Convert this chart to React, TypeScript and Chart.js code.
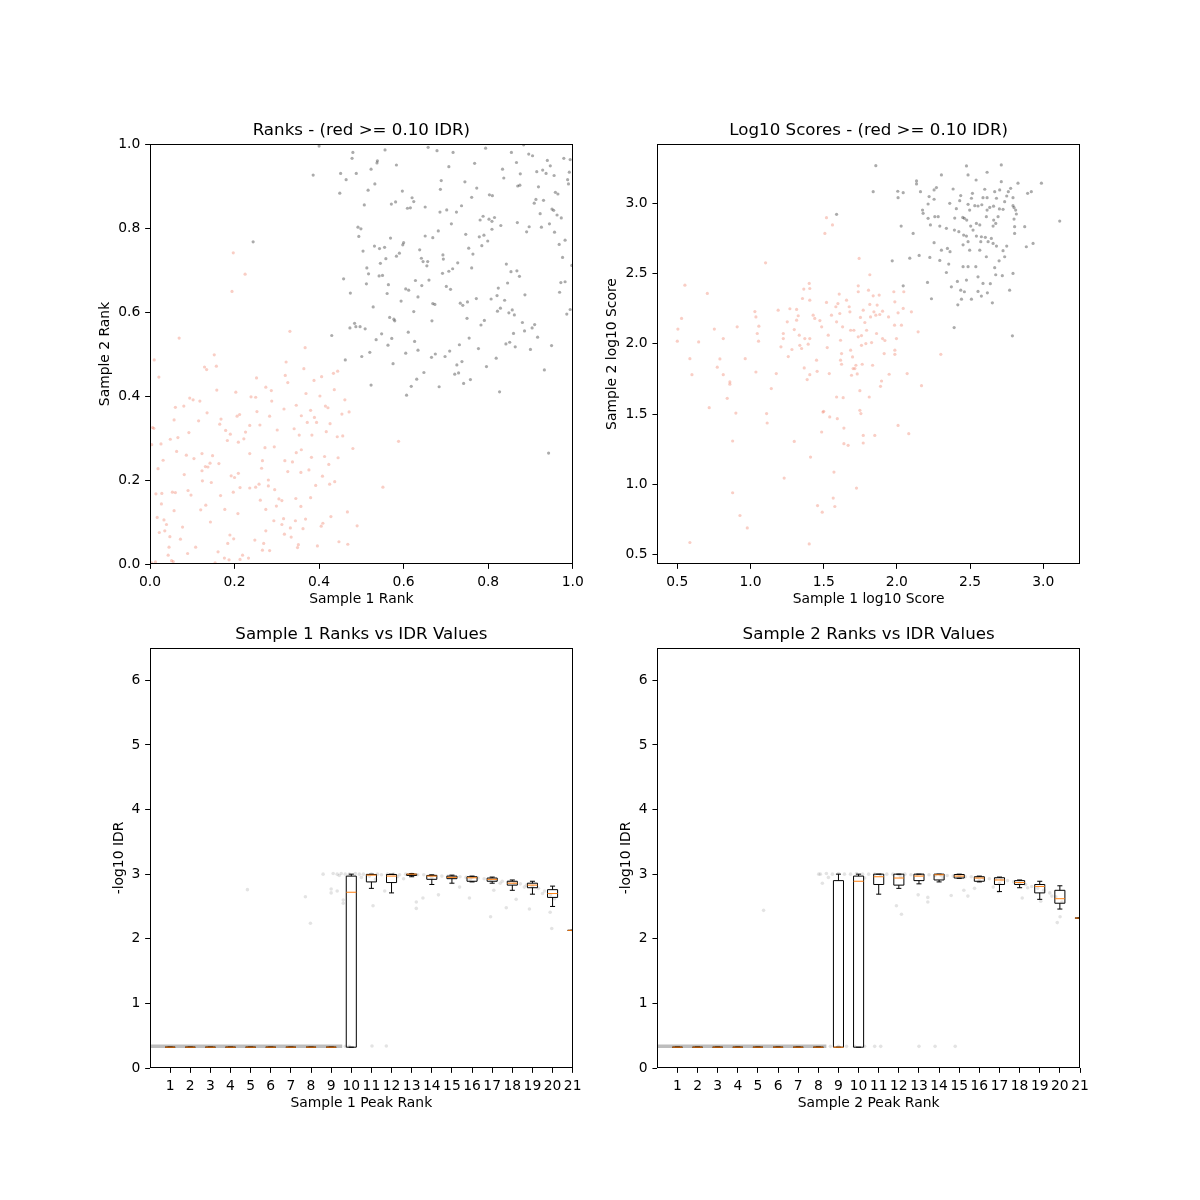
import React, { useEffect, useRef } from 'react';
import { Chart, registerables } from 'chart.js';
Chart.register(...registerables);

const FONT = "'DejaVu Sans', 'Liberation Sans', sans-serif";

// ---------- Panel 1: ranks ----------
const rankGray: number[][] = [
[0.40,0.995],[0.48,0.98],[0.478,0.966],[0.556,0.986],[0.538,0.96],[0.537,0.955],[0.583,0.95],[0.523,0.94],[0.451,0.93],[0.488,0.93],[0.386,0.926],[0.464,0.915],[0.532,0.905],[0.516,0.89],[0.449,0.883],[0.597,0.888],[0.62,0.872],[0.624,0.863],[0.581,0.862],[0.571,0.857],[0.507,0.855],[0.609,0.847],[0.616,0.848],[0.651,0.85],[0.658,0.992],[0.679,0.984],[0.717,0.98],[0.707,0.946],[0.689,0.913],[0.687,0.892],[0.745,0.91],[0.768,0.954],[0.794,0.99],[0.834,0.94],[0.855,0.98],[0.867,0.956],[0.884,0.998],[0.896,0.976],[0.905,0.972],[0.915,0.934],[0.929,0.938],[0.94,0.961],[0.947,0.948],[0.956,0.925],[0.937,0.93],[0.979,0.966],[0.994,0.963],[0.992,0.933],[0.988,0.915],[0.99,0.905],[0.837,0.919],[0.876,0.929],[0.875,0.902],[0.87,0.9],[0.773,0.895],[0.803,0.879],[0.81,0.877],[0.761,0.873],[0.919,0.898],[0.913,0.868],[0.931,0.866],[0.959,0.885],[0.965,0.881],[0.909,0.859],[0.951,0.845],[0.955,0.842],[0.963,0.831],[0.973,0.824],[0.923,0.834],[0.869,0.813],[0.897,0.803],[0.891,0.791],[0.926,0.802],[0.945,0.81],[0.957,0.79],[0.968,0.761],[0.982,0.771],[0.998,0.711],[0.976,0.73],[0.972,0.67],[0.982,0.672],[0.969,0.647],[0.994,0.606],[0.986,0.595],
[0.492,0.802],[0.499,0.798],[0.494,0.78],[0.569,0.776],[0.598,0.76],[0.6,0.765],[0.531,0.757],[0.543,0.751],[0.555,0.754],[0.504,0.745],[0.583,0.733],[0.59,0.74],[0.558,0.727],[0.545,0.716],[0.513,0.705],[0.517,0.691],[0.542,0.686],[0.55,0.687],[0.564,0.665],[0.561,0.644],[0.512,0.667],[0.458,0.679],[0.474,0.645],[0.528,0.612],[0.594,0.626],[0.605,0.655],[0.612,0.652],[0.634,0.636],[0.624,0.601],[0.567,0.587],[0.577,0.583],[0.579,0.579],[0.484,0.573],[0.487,0.565],[0.473,0.562],[0.497,0.565],[0.509,0.56],[0.43,0.544],[0.548,0.548],[0.535,0.534],[0.572,0.537],[0.611,0.552],[0.563,0.521],[0.501,0.494],[0.52,0.504],[0.462,0.486],[0.575,0.477],[0.523,0.426],[0.605,0.502],[0.626,0.53],[0.634,0.509],[0.648,0.456],[0.631,0.44],[0.618,0.423],[0.607,0.402],[0.638,0.748],[0.642,0.728],[0.646,0.72],[0.657,0.72],[0.655,0.71],[0.628,0.675],[0.643,0.663],[0.66,0.676],[0.651,0.781],[0.669,0.777],[0.682,0.793],[0.686,0.838],[0.702,0.843],[0.725,0.838],[0.713,0.81],[0.737,0.853],[0.747,0.785],[0.754,0.752],[0.764,0.738],[0.781,0.819],[0.788,0.828],[0.802,0.821],[0.809,0.816],[0.815,0.825],[0.83,0.806],[0.809,0.797],[0.779,0.779],[0.79,0.783],[0.785,0.758],[0.799,0.769],[0.693,0.736],[0.694,0.726],[0.728,0.717],[0.716,0.703],[0.707,0.697],[0.692,0.692],[0.701,0.661],[0.711,0.654],[0.761,0.705],[0.843,0.714],[0.854,0.696],[0.868,0.698],[0.874,0.685],[0.846,0.669],[0.824,0.657],[0.821,0.639],[0.772,0.632],[0.807,0.631],[0.839,0.628],[0.829,0.609],[0.822,0.602],[0.857,0.605],[0.849,0.598],[0.862,0.593],[0.887,0.641],[0.669,0.62],[0.674,0.618],[0.734,0.621],[0.74,0.616],[0.751,0.624],[0.667,0.579],[0.75,0.585],[0.791,0.58],[0.783,0.569],[0.881,0.575],[0.91,0.57],[0.904,0.562],[0.886,0.555],[0.86,0.549],[0.917,0.54],[0.755,0.538],[0.732,0.522],[0.709,0.507],[0.698,0.494],[0.675,0.5],[0.666,0.492],[0.684,0.422],[0.777,0.513],[0.819,0.49],[0.796,0.47],[0.842,0.524],[0.851,0.528],[0.864,0.517],[0.9,0.511],[0.95,0.52],[0.726,0.474],[0.738,0.482],[0.73,0.455],[0.721,0.452],[0.742,0.43],[0.758,0.439],[0.827,0.41],[0.933,0.462],[0.943,0.264],[0.244,0.767]
];

const rankRed: number[][] = [
[0.197,0.741],[0.225,0.69],[0.194,0.649],[0.069,0.538],[0.331,0.554],[0.01,0.486],[0.021,0.445],[0.367,0.515],[0.322,0.481],[0.152,0.498],[0.157,0.471],[0.129,0.469],[0.134,0.463],[0.252,0.443],[0.32,0.449],[0.388,0.437],[0.406,0.446],[0.434,0.454],[0.444,0.459],[0.364,0.465],[0.436,0.415],[0.158,0.414],[0.203,0.409],[0.239,0.398],[0.25,0.397],[0.274,0.421],[0.287,0.413],[0.288,0.388],[0.326,0.432],[0.369,0.406],[0.402,0.4],[0.415,0.376],[0.421,0.372],[0.461,0.391],[0.471,0.362],[0.454,0.357],[0.094,0.395],[0.102,0.391],[0.118,0.388],[0.08,0.376],[0.06,0.373],[0.135,0.36],[0.115,0.341],[0.057,0.343],[0.006,0.325],[0.009,0.323],[0.168,0.345],[0.165,0.333],[0.206,0.352],[0.212,0.356],[0.236,0.33],[0.253,0.363],[0.26,0.331],[0.283,0.352],[0.301,0.319],[0.317,0.369],[0.346,0.378],[0.358,0.353],[0.372,0.337],[0.38,0.366],[0.394,0.337],[0.389,0.349],[0.426,0.334],[0.417,0.315],[0.443,0.303],[0.456,0.305],[0.48,0.275],[0.353,0.307],[0.341,0.322],[0.383,0.307],[0.294,0.279],[0.272,0.277],[0.222,0.298],[0.209,0.29],[0.226,0.314],[0.19,0.309],[0.179,0.318],[0.183,0.294],[0.266,0.246],[0.236,0.263],[0.148,0.258],[0.123,0.263],[0.142,0.24],[0.163,0.239],[0.137,0.231],[0.092,0.313],[0.066,0.301],[0.048,0.297],[0.026,0.286],[0.004,0.284],[0.063,0.268],[0.086,0.259],[0.104,0.251],[0.031,0.247],[0.019,0.227],[0.081,0.213],[0.123,0.222],[0.131,0.232],[0.124,0.198],[0.145,0.194],[0.192,0.21],[0.2,0.206],[0.213,0.182],[0.236,0.181],[0.258,0.19],[0.28,0.2],[0.28,0.186],[0.295,0.177],[0.299,0.138],[0.305,0.155],[0.312,0.151],[0.326,0.22],[0.337,0.243],[0.357,0.218],[0.376,0.224],[0.392,0.187],[0.408,0.209],[0.413,0.256],[0.423,0.237],[0.445,0.253],[0.437,0.196],[0.425,0.19],[0.551,0.183],[0.588,0.292],[0.467,0.124],[0.428,0.113],[0.409,0.097],[0.405,0.09],[0.49,0.091],[0.447,0.053],[0.468,0.047],[0.396,0.043],[0.351,0.046],[0.349,0.039],[0.334,0.064],[0.345,0.156],[0.357,0.137],[0.38,0.158],[0.368,0.107],[0.362,0.084],[0.332,0.086],[0.318,0.071],[0.316,0.108],[0.293,0.103],[0.283,0.032],[0.274,0.079],[0.248,0.057],[0.269,0.049],[0.266,0.033],[0.233,0.014],[0.219,0.021],[0.213,0.011],[0.189,0.069],[0.198,0.06],[0.184,0.049],[0.161,0.029],[0.176,0.014],[0.187,0.01],[0.154,0.003],[0.208,0.12],[0.177,0.13],[0.167,0.163],[0.143,0.1],[0.132,0.14],[0.12,0.129],[0.108,0.04],[0.089,0.025],[0.077,0.088],[0.072,0.059],[0.057,0.127],[0.053,0.171],[0.028,0.168],[0.014,0.167],[0.027,0.143],[0.017,0.111],[0.033,0.105],[0.039,0.094],[0.035,0.079],[0.022,0.075],[0.047,0.065],[0.045,0.04],[0.043,0.021],[0.051,0.008],[0.055,0.006],[0.013,0.005],[0.004,0.003],[0.06,0.17],[0.09,0.175],[0.097,0.164],[0.197,0.171],[0.25,0.183],[0.261,0.152],[0.274,0.13],[0.312,0.094],[0.344,0.103],[0.319,0.246],[0.382,0.254],[0.358,0.272],[0.346,0.265],[0.264,0.228],[0.209,0.216]
];

// ---------- Panel 2: log10 scores ----------
const scoreGray: number[][] = [
[1.856,3.268],[1.838,3.083],[1.588,2.922],[2.006,3.086],[2.008,3.04],[2.043,3.076],[1.968,2.591],[2.029,2.838],[2.043,2.413],[2.134,3.159],[2.134,3.138],[2.161,3.083],[2.111,2.786],[2.088,2.61],[2.152,2.629],[2.175,2.952],[2.179,2.929],[2.213,2.995],[2.22,3.048],[2.254,3.095],[2.27,3.112],[2.254,3.029],[2.304,3.202],[2.213,2.893],[2.229,2.846],[2.259,2.905],[2.282,2.905],[2.293,2.838],[2.254,2.72],[2.304,2.667],[2.225,2.615],[2.293,2.594],[2.209,2.437],[2.236,2.321],[2.338,2.822],[2.361,3.0],[2.384,3.102],[2.395,2.895],[2.406,2.962],[2.429,3.019],[2.436,3.055],[2.393,2.81],[2.423,2.798],[2.345,2.679],[2.363,2.656],[2.354,2.568],[2.338,2.508],[2.372,2.406],[2.413,2.444],[2.436,2.382],[2.416,2.278],[2.441,2.318],[2.461,2.371],[2.509,2.318],[2.475,2.454],[2.486,2.549],[2.452,2.549],[2.452,2.705],[2.456,2.774],[2.475,2.767],[2.486,2.727],[2.497,2.667],[2.504,2.838],[2.461,2.893],[2.477,2.881],[2.497,2.952],[2.486,2.993],[2.509,3.036],[2.516,3.071],[2.475,3.266],[2.486,3.202],[2.541,3.166],[2.616,3.221],[2.6,3.1],[2.588,3.04],[2.616,3.04],[2.634,2.971],[2.616,2.952],[2.611,2.905],[2.566,2.846],[2.543,2.857],[2.532,2.983],[2.554,2.981],[2.52,2.81],[2.543,2.767],[2.573,2.727],[2.577,2.762],[2.604,2.758],[2.611,2.62],[2.566,2.667],[2.539,2.549],[2.554,2.477],[2.554,2.373],[2.577,2.34],[2.588,2.43],[2.618,2.363],[2.638,2.428],[2.652,2.292],[2.668,2.542],[2.675,2.492],[2.68,2.696],[2.657,2.715],[2.645,2.75],[2.661,2.881],[2.675,2.857],[2.691,2.905],[2.668,3.083],[2.68,3.036],[2.702,3.095],[2.713,3.154],[2.713,3.273],[2.725,2.957],[2.736,3.012],[2.75,3.052],[2.761,3.083],[2.777,3.107],[2.793,3.04],[2.793,2.983],[2.811,2.952],[2.816,2.924],[2.8,2.888],[2.804,2.834],[2.804,2.786],[2.725,2.663],[2.736,2.62],[2.75,2.696],[2.698,2.591],[2.72,2.485],[2.77,2.382],[2.793,2.501],[2.789,2.057],[2.827,3.143],[2.873,2.834],[2.884,2.691],[2.893,3.071],[2.918,3.083],[2.93,2.715],[2.987,3.143],[3.112,2.874],[2.391,2.116],[2.623,2.727],[2.657,2.838],[2.66,2.98],[2.7,2.96],[2.8,2.97],[2.45,2.9],[2.58,2.99]
];

const scoreRed: number[][] = [
[0.5,2.019],[0.504,2.105],[0.529,2.181],[0.552,2.418],[0.586,1.895],[0.6,1.781],[0.646,2.014],[0.586,0.587],[0.705,2.359],[0.718,1.546],[0.753,2.105],[0.773,1.834],[0.791,1.893],[0.814,2.038],[0.814,1.781],[0.841,1.613],[0.859,1.729],[0.859,1.713],[0.878,1.309],[0.878,0.941],[0.9,1.508],[0.909,2.121],[0.928,0.779],[0.964,1.895],[0.978,0.691],[1.03,2.23],[1.037,2.192],[1.046,2.074],[1.057,2.126],[1.055,2.019],[1.037,1.8],[1.103,2.577],[1.11,1.504],[1.114,1.437],[1.142,1.682],[1.176,1.789],[1.189,2.24],[1.208,1.979],[1.224,2.074],[1.224,2.038],[1.23,1.045],[1.251,2.157],[1.258,1.91],[1.269,2.25],[1.283,1.96],[1.299,2.102],[1.299,1.306],[1.315,2.245],[1.315,2.169],[1.326,2.2],[1.333,2.062],[1.337,1.99],[1.349,1.967],[1.355,2.323],[1.364,2.39],[1.367,1.829],[1.371,2.038],[1.387,1.746],[1.394,1.998],[1.401,2.43],[1.405,2.394],[1.405,2.311],[1.405,2.038],[1.405,1.781],[1.41,1.195],[1.401,0.577],[1.428,2.204],[1.439,2.181],[1.451,1.884],[1.455,1.805],[1.474,2.166],[1.486,2.121],[1.486,1.373],[1.495,1.515],[1.5,1.52],[1.458,0.85],[1.49,0.803],[1.508,2.786],[1.519,2.898],[1.519,2.295],[1.524,1.974],[1.531,2.062],[1.538,1.789],[1.541,1.48],[1.553,2.204],[1.56,2.846],[1.565,0.903],[1.57,1.088],[1.576,0.843],[1.583,2.264],[1.588,2.157],[1.588,1.622],[1.593,1.468],[1.597,2.287],[1.606,2.354],[1.61,2.216],[1.615,2.026],[1.615,1.884],[1.622,1.931],[1.622,1.855],[1.629,2.121],[1.633,1.617],[1.638,1.401],[1.638,1.29],[1.656,2.311],[1.667,1.278],[1.674,2.264],[1.679,2.228],[1.684,2.097],[1.684,1.955],[1.69,1.777],[1.697,1.907],[1.701,1.824],[1.706,2.097],[1.713,1.824],[1.72,1.848],[1.724,0.974],[1.729,1.786],[1.736,2.413],[1.736,2.371],[1.736,2.05],[1.742,2.608],[1.747,1.667],[1.747,1.527],[1.751,2.188],[1.754,1.504],[1.758,2.059],[1.758,1.99],[1.763,1.855],[1.77,2.24],[1.77,1.295],[1.77,1.349],[1.781,2.152],[1.788,2.002],[1.793,2.097],[1.806,2.382],[1.811,1.622],[1.815,2.492],[1.815,2.281],[1.82,2.192],[1.827,2.009],[1.834,1.848],[1.838,2.342],[1.843,2.228],[1.849,1.349],[1.856,2.204],[1.861,2.074],[1.865,2.276],[1.879,2.347],[1.883,2.209],[1.888,1.698],[1.895,1.736],[1.902,2.038],[1.902,2.233],[1.913,1.931],[1.918,2.024],[1.943,2.192],[1.947,1.784],[1.979,2.371],[1.986,2.299],[1.984,2.133],[1.986,1.955],[1.986,1.926],[1.997,2.038],[2.008,1.42],[2.008,2.221],[2.031,2.133],[2.043,2.252],[2.047,2.371],[2.07,1.789],[2.081,1.361],[2.099,2.228],[2.145,2.086],[2.168,1.703],[2.3,1.926]
];

// ---------- Panels 3/4: -log10 IDR by peak rank ----------
const peakPositions = [1,2,3,4,5,6,7,8,9,10,11,12,13,14,15,16,17,18,19,20,21];
// [lower whisker, Q1, median, Q3, upper whisker]
const s1Boxes: number[][] = [
[0.322,0.322,0.322,0.322,0.322],[0.322,0.322,0.322,0.322,0.322],[0.322,0.322,0.322,0.322,0.322],
[0.322,0.322,0.322,0.322,0.322],[0.322,0.322,0.322,0.322,0.322],[0.322,0.322,0.322,0.322,0.322],
[0.322,0.322,0.322,0.322,0.322],[0.322,0.322,0.322,0.322,0.322],[0.322,0.322,0.322,0.322,0.322],
[0.322,0.322,2.72,2.97,3.0],[2.78,2.88,2.985,2.995,3.0],[2.71,2.87,2.97,2.995,3.0],
[2.96,2.98,3.0,3.0,3.01],[2.84,2.92,2.97,2.98,2.99],[2.86,2.93,2.95,2.97,2.985],
[2.88,2.89,2.944,2.96,2.97],[2.86,2.89,2.92,2.94,2.955],[2.75,2.83,2.86,2.89,2.91],
[2.69,2.79,2.83,2.86,2.89],[2.50,2.64,2.70,2.76,2.815],[2.13,2.13,2.13,2.13,2.13]
];
const s2Boxes: number[][] = [
[0.322,0.322,0.322,0.322,0.322],[0.322,0.322,0.322,0.322,0.322],[0.322,0.322,0.322,0.322,0.322],
[0.322,0.322,0.322,0.322,0.322],[0.322,0.322,0.322,0.322,0.322],[0.322,0.322,0.322,0.322,0.322],
[0.322,0.322,0.322,0.322,0.322],[0.322,0.322,0.322,0.322,0.322],
[0.322,0.322,0.322,2.90,3.0],[0.322,0.322,2.89,2.97,3.0],[2.69,2.84,2.96,3.0,3.0],
[2.78,2.83,2.94,3.0,3.0],[2.85,2.90,2.97,3.0,3.0],[2.88,2.91,2.99,3.0,3.0],
[2.935,2.94,2.97,2.995,3.0],[2.88,2.89,2.94,2.96,2.97],[2.73,2.84,2.91,2.945,2.955],
[2.79,2.84,2.87,2.90,2.91],[2.61,2.71,2.81,2.84,2.89],[2.46,2.55,2.62,2.75,2.82],
[2.32,2.32,2.32,2.32,2.32]
];
const s1LowBand: number[][] = [[0,0.335],[9.55,0.335]];
const s2LowBand: number[][] = [[0,0.335],[8.4,0.335]];
const s1Points: number[][] = [
[9.7,0.335],[9.9,0.335],[11.03,0.34],[11.74,0.34],
[4.84,2.76],[7.72,2.65],[7.97,2.24],[8.6,3.0],[9.0,2.77],[9.0,2.71],[9.3,2.74],[9.6,2.6],[9.6,2.55],[11.08,2.51],[11.66,2.74],[13.23,2.57],[13.23,2.47],[13.56,2.63],[14.33,2.68],[15.38,2.8],[15.87,2.63],[16.92,2.34],[17.08,2.75],[17.7,2.48],[18.19,2.61],[18.85,2.46],[19.88,2.41],[19.96,2.16],[21,2.13],
[9.1,3.01],[9.3,3.0],[9.5,3.01],[9.7,3.0],[9.9,3.0],[10.2,3.01],[10.4,3.0],[10.6,3.0],[10.8,2.99],[11.0,3.0],[11.3,3.0],[11.5,2.99],[11.8,3.0],[12.1,3.0],[12.4,2.99],[12.7,3.0],[13.0,3.0],[13.3,2.99],[13.6,2.99],[13.9,2.98],[14.2,2.98],[14.5,2.97],[14.8,2.97],[15.1,2.96],[15.4,2.96],[15.7,2.95],[16.0,2.95],[16.3,2.94],[16.6,2.93],[16.9,2.92],[17.2,2.91],[17.5,2.89],[17.8,2.88],[18.1,2.86],[18.4,2.85],[18.7,2.83],[19.0,2.81],[19.3,2.78],[19.6,2.74],[19.9,2.68],[20.1,2.62],
[9.4,2.98],[10.9,2.97],[12.3,2.96],[14.0,2.95],[15.9,2.92],[17.4,2.86],[18.6,2.8],[19.5,2.7],[10.5,2.95],[11.2,2.92],[12.6,2.93]
];
const s2Points: number[][] = [
[8.6,0.335],[9.0,0.335],[9.4,0.335],[9.8,0.335],[10.3,0.335],[10.8,0.335],[11.1,0.335],[13.0,0.335],[13.8,0.335],[14.8,0.335],
[5.28,2.44],[8.02,3.0],[8.2,2.86],[11.88,2.51],[12.13,2.38],[12.96,2.68],[13.44,2.64],[13.44,2.57],[14.6,2.67],[15.43,2.66],[15.23,2.75],[15.76,2.78],[16.69,2.8],[16.94,2.73],[18.13,2.63],[19.05,2.58],[20.01,2.34],[19.87,2.25],[21,2.32],
[8.1,3.0],[8.4,3.01],[8.7,3.0],[9.0,3.01],[9.3,3.0],[9.6,3.0],[9.9,3.01],[10.2,3.0],[10.5,3.0],[10.8,3.0],[11.1,2.99],[11.4,3.0],[11.7,3.0],[12.0,2.99],[12.3,3.0],[12.6,2.99],[12.9,2.99],[13.2,2.99],[13.5,2.99],[13.8,2.98],[14.1,2.98],[14.4,2.98],[14.7,2.97],[15.0,2.97],[15.3,2.96],[15.6,2.96],[15.9,2.95],[16.2,2.94],[16.5,2.93],[16.8,2.92],[17.1,2.91],[17.4,2.9],[17.7,2.88],[18.0,2.86],[18.3,2.84],[18.6,2.81],[18.9,2.78],[19.2,2.75],[19.5,2.71],[19.8,2.65],[20.1,2.57],
[8.5,2.95],[10.3,2.94],[12.1,2.96],[14.2,2.94],[16.0,2.9],[17.0,2.86],[18.4,2.79],[19.6,2.66]
];

const rankTicks = [0, 0.2, 0.4, 0.6, 0.8, 1.0];
const scoreTicks = [0.5, 1.0, 1.5, 2.0, 2.5, 3.0];
const idrTicks = [0, 1, 2, 3, 4, 5, 6];
const peakTicks = [1,2,3,4,5,6,7,8,9,10,11,12,13,14,15,16,17,18,19,20,21];

const GRAY = 'rgba(0,0,0,0.33)';
const RED = 'rgba(238,120,95,0.36)';
const FAINT = 'rgba(0,0,0,0.11)';

const framePlugin = {
  id: 'frame',
  afterDraw(chart: any) {
    const { ctx, chartArea: a } = chart;
    ctx.save();
    ctx.strokeStyle = '#000';
    ctx.lineWidth = 1;
    const l = Math.round(a.left) + 0.5, t = Math.round(a.top) + 0.5;
    const r = Math.round(a.right) - 0.5, b = Math.round(a.bottom) - 0.5;
    ctx.strokeRect(l, t, r - l, b - t);
    ctx.restore();
  },
};

function makeBoxPlugin(boxes: number[][]) {
  return {
    id: 'boxes',
    afterDatasetsDraw(chart: any) {
      const { ctx, chartArea: a, scales } = chart;
      const xs = scales.x, ys = scales.y;
      ctx.save();
      ctx.beginPath();
      ctx.rect(a.left, a.top, a.right - a.left, a.bottom - a.top);
      ctx.clip();
      ctx.lineWidth = 1;
      boxes.forEach((b, i) => {
        const pos = peakPositions[i];
        const [lo, q1, med, q3, hi] = b;
        const xc = xs.getPixelForValue(pos);
        const hw = xs.getPixelForValue(pos + 0.25) - xc;
        const cw = hw / 2;
        const py = (v: number) => ys.getPixelForValue(v);
        ctx.strokeStyle = '#000';
        ctx.beginPath();
        ctx.rect(xc - hw, py(q3), 2 * hw, py(q1) - py(q3));
        ctx.moveTo(xc, py(q1)); ctx.lineTo(xc, py(lo));
        ctx.moveTo(xc, py(q3)); ctx.lineTo(xc, py(hi));
        ctx.moveTo(xc - cw, py(lo)); ctx.lineTo(xc + cw, py(lo));
        ctx.moveTo(xc - cw, py(hi)); ctx.lineTo(xc + cw, py(hi));
        ctx.stroke();
        ctx.strokeStyle = '#ff7f0e';
        ctx.beginPath();
        ctx.moveTo(xc - hw, py(med)); ctx.lineTo(xc + hw, py(med));
        ctx.stroke();
      });
      ctx.restore();
    },
  };
}

const toXY = (arr: number[][]) => arr.map(([x, y]) => ({ x, y }));

interface PanelSpec {
  title: string;
  xTitle: string;
  yTitle: string;
  xMin: number; xMax: number; yMin: number; yMax: number;
  xTicks: number[]; yTicks: number[];
  xFmt: (v: number) => string; yFmt: (v: number) => string;
  pad: { left: number; right: number; top: number; bottom: number };
  yTitlePad: number;
  datasets: any[];
  plugins: any[];
}

function makeConfig(p: PanelSpec): any {
  const tickFont = { family: FONT, size: 13.89 };
  const gridOpts = { display: true, drawOnChartArea: false, drawTicks: true, tickLength: 4.86, color: '#000', lineWidth: 1, tickColor: '#000', tickWidth: 1 };
  return {
    type: 'scatter',
    data: { datasets: p.datasets },
    plugins: [...p.plugins, framePlugin],
    options: {
      animation: false,
      responsive: false,
      events: [],
      layout: { padding: p.pad, autoPadding: false },
      plugins: {
        legend: { display: false },
        tooltip: { enabled: false },
        title: {
          display: true, text: p.title, color: '#000', fullSize: false,
          font: { family: FONT, size: 16.67, weight: 'normal', lineHeight: 1.2 },
          padding: { top: 0, bottom: 3.3 },
        },
      },
      scales: {
        x: {
          type: 'linear', position: 'bottom', min: p.xMin, max: p.xMax,
          afterBuildTicks: (s: any) => { s.ticks = p.xTicks.map((v) => ({ value: v })); },
          afterFit: (s: any) => { s.height = 50; s.paddingLeft = 0; s.paddingRight = 0; },
          ticks: { font: tickFont, color: '#000', padding: 4.86, maxRotation: 0, minRotation: 0, autoSkip: false, callback: (v: any) => p.xFmt(Number(v)) },
          grid: gridOpts,
          border: { display: false },
          title: { display: true, text: p.xTitle, color: '#000', font: { family: FONT, size: 13.89, lineHeight: 1.2 }, padding: { top: 0, bottom: 6.7 } },
        },
        y: {
          type: 'linear', position: 'left', min: p.yMin, max: p.yMax,
          afterBuildTicks: (s: any) => { s.ticks = p.yTicks.map((v) => ({ value: v })); },
          afterFit: (s: any) => { s.width = 100; s.paddingTop = 0; s.paddingBottom = 0; },
          ticks: { font: tickFont, color: '#000', padding: 4.86, autoSkip: false, callback: (v: any) => p.yFmt(Number(v)) },
          grid: gridOpts,
          border: { display: false },
          title: { display: true, text: p.yTitle, color: '#000', font: { family: FONT, size: 13.89, lineHeight: 1.2 }, padding: { top: p.yTitlePad, bottom: 0 } },
        },
      },
    },
  };
}

const pointDs = (data: number[][], color: string, r = 1.6) => ({
  data: toXY(data), backgroundColor: color, borderWidth: 0, pointRadius: r, pointHoverRadius: r,
});

const specs: PanelSpec[] = [
  {
    title: 'Ranks - (red >= 0.10 IDR)', xTitle: 'Sample 1 Rank', yTitle: 'Sample 2 Rank',
    xMin: 0, xMax: 1, yMin: 0, yMax: 1, xTicks: rankTicks, yTicks: rankTicks,
    xFmt: (v) => v.toFixed(1), yFmt: (v) => v.toFixed(1),
    pad: { left: 50, right: 627.3, top: 120.7, bottom: 586 }, yTitlePad: 46.7,
    datasets: [pointDs(rankRed, RED), pointDs(rankGray, GRAY)], plugins: [],
  },
  {
    title: 'Log10 Scores - (red >= 0.10 IDR)', xTitle: 'Sample 1 log10 Score', yTitle: 'Sample 2 log10 Score',
    xMin: 0.3634, xMax: 3.2506, yMin: 0.434, yMax: 3.422, xTicks: scoreTicks, yTicks: scoreTicks,
    xFmt: (v) => v.toFixed(1), yFmt: (v) => v.toFixed(1),
    pad: { left: 557.3, right: 120, top: 120.7, bottom: 586 }, yTitlePad: 46.4,
    datasets: [pointDs(scoreRed, RED), pointDs(scoreGray, GRAY)], plugins: [],
  },
  {
    title: 'Sample 1 Ranks vs IDR Values', xTitle: 'Sample 1 Peak Rank', yTitle: '-log10 IDR',
    xMin: 0, xMax: 21, yMin: 0, yMax: 6.5, xTicks: peakTicks, yTicks: idrTicks,
    xFmt: (v) => String(v), yFmt: (v) => String(v),
    pad: { left: 50, right: 627.3, top: 624.7, bottom: 82 }, yTitlePad: 60.7,
    datasets: [
      { data: toXY(s1LowBand), showLine: true, borderColor: 'rgba(0,0,0,0.26)', borderWidth: 3.5, pointRadius: 0 },
      pointDs(s1Points, FAINT, 1.8),
    ],
    plugins: [makeBoxPlugin(s1Boxes)],
  },
  {
    title: 'Sample 2 Ranks vs IDR Values', xTitle: 'Sample 2 Peak Rank', yTitle: '-log10 IDR',
    xMin: 0, xMax: 21, yMin: 0, yMax: 6.5, xTicks: peakTicks, yTicks: idrTicks,
    xFmt: (v) => String(v), yFmt: (v) => String(v),
    pad: { left: 557.3, right: 120, top: 624.7, bottom: 82 }, yTitlePad: 60.4,
    datasets: [
      { data: toXY(s2LowBand), showLine: true, borderColor: 'rgba(0,0,0,0.26)', borderWidth: 3.5, pointRadius: 0 },
      pointDs(s2Points, FAINT, 1.8),
    ],
    plugins: [makeBoxPlugin(s2Boxes)],
  },
];

export default function App() {
  const refs = [useRef<HTMLCanvasElement>(null), useRef<HTMLCanvasElement>(null), useRef<HTMLCanvasElement>(null), useRef<HTMLCanvasElement>(null)];
  useEffect(() => {
    const charts = specs.map((s, i) => new Chart(refs[i].current as HTMLCanvasElement, makeConfig(s)));
    return () => charts.forEach((c) => c.destroy());
  }, []);
  return (
    <div style={{ position: 'absolute', left: 0, top: 0, width: 1200, height: 1200, background: '#fff', overflow: 'hidden' }}>
      {refs.map((r, i) => (
        <canvas key={i} ref={r} width={1200} height={1200}
          style={{ position: 'absolute', left: 0, top: 0, width: 1200, height: 1200 }} />
      ))}
    </div>
  );
}
